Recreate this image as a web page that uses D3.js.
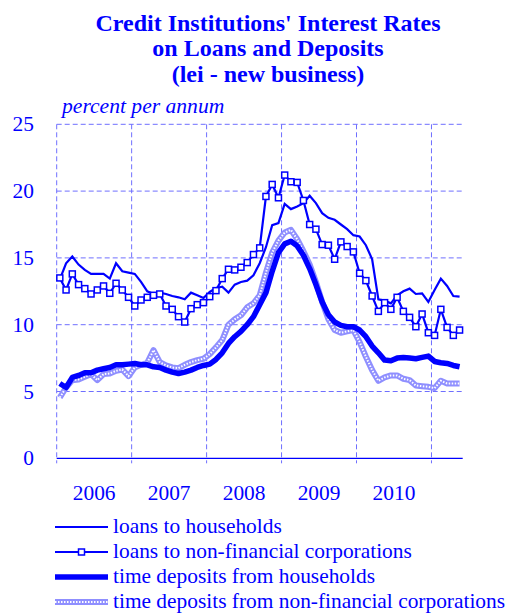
<!DOCTYPE html>
<html>
<head>
<meta charset="utf-8">
<script src="https://cdn.jsdelivr.net/npm/d3@7"></script>
<style>
  body { margin: 0; background: #fff; }
  svg text { font-family: "Liberation Serif", "Times New Roman", serif; fill: #0000ff; }
</style>
</head>
<body>
<div id="chart"></div>
<script>
// monthly values, Jan 2006 - May 2011
const loansHouseholds = [13.4, 14.6, 15.1, 14.5, 14.1, 13.8, 13.8, 13.8, 13.45, 14.6, 14.0, 13.9,
  13.8, 13.2, 12.5, 12.3, 12.4, 12.3, 12.15, 12.05, 11.9, 12.4, 12.2, 12.0,
  12.45, 12.75, 12.85, 12.4, 13.0, 13.2, 13.3, 13.7, 14.6, 15.8, 17.45, 17.6,
  19.05, 18.65, 18.85, 19.1, 19.65, 19.1, 18.35, 18.0, 17.85, 17.5, 17.15, 16.7,
  16.6, 15.95, 14.9, 11.9, 11.8, 11.6, 12.2, 12.5, 12.7, 12.3, 12.35, 11.7,
  12.6, 13.45, 12.9, 12.15, 12.1];
const loansCorporations = [13.5, 12.6, 13.8, 13.0, 12.7, 12.3, 12.6, 12.9, 12.35, 13.1, 12.6, 12.05,
  11.4, 11.85, 12.05, 12.2, 12.3, 11.4, 11.15, 10.6, 10.2, 11.2, 11.5, 11.65,
  12.1, 12.55, 13.45, 14.15, 14.1, 14.3, 14.65, 15.25, 15.75, 19.6, 20.5, 19.5,
  21.2, 20.7, 20.65, 19.3, 17.5, 17.15, 16.0, 15.95, 14.9, 16.2, 15.85, 15.45,
  13.85, 13.3, 12.15, 11.0, 11.65, 11.15, 12.05, 11.0, 10.55, 9.85, 10.8, 9.4,
  9.2, 11.15, 9.8, 9.2, 9.6];
const depositsHouseholds = [5.6, 5.3, 6.05, 6.2, 6.4, 6.4, 6.6, 6.7, 6.8, 7.0, 7.0, 7.05,
  7.1, 7.0, 7.0, 6.85, 6.8, 6.6, 6.45, 6.35, 6.45, 6.6, 6.8, 6.95,
  7.05, 7.4, 7.9, 8.6, 9.1, 9.5, 10.0, 10.6, 11.5, 12.4, 14.0, 15.4,
  16.05, 16.25, 15.9, 15.2, 14.2, 13.0, 11.7, 10.75, 10.2, 9.95, 9.85, 9.85,
  9.6, 9.1, 8.4, 7.9, 7.35, 7.3, 7.5, 7.55, 7.5, 7.45, 7.55, 7.65,
  7.25, 7.15, 7.1, 6.95, 6.85];
const depositsCorporations = [4.55, 5.3, 5.85, 5.9, 6.1, 6.3, 5.85, 6.3, 6.35, 6.55, 6.65, 6.15,
  6.8, 7.0, 7.15, 8.1, 7.2, 6.95, 6.8, 6.75, 7.0, 7.2, 7.35, 7.45,
  7.8, 8.3, 8.85, 10.0, 10.4, 10.7, 11.3, 11.6, 12.2, 13.9, 15.4, 16.3,
  16.9, 17.1, 16.4, 15.5, 14.5, 13.2, 11.7, 10.4, 9.6, 9.4, 9.5, 9.6,
  8.7, 7.6, 6.6, 5.8, 6.05, 6.2, 6.2, 5.95, 5.85, 5.45, 5.4, 5.35,
  5.25, 5.8, 5.6, 5.6, 5.6];

const years = ["2006", "2007", "2008", "2009", "2010"];
const yTicks = [0, 5, 10, 15, 20, 25];
const titleLines = ["Credit Institutions' Interest Rates", "on Loans and Deposits", "(lei - new business)"];
const legendLabels = ["loans to households", "loans to non-financial corporations",
  "time deposits from households", "time deposits from non-financial corporations"];

const width = 507, height = 616;
const blue = "#0000ff", grid = "#6f6fff";
const fs = "21.4px";

const svg = d3.select("#chart").append("svg")
  .attr("width", width).attr("height", height);

const x = d3.scaleLinear().domain([0, 65]).range([56.7, 462.7]);
const y = d3.scaleLinear().domain([0, 25]).range([458.3, 124.3]);

// title
svg.append("g").selectAll("text")
  .data(titleLines).join("text")
  .attr("x", 268).attr("y", (d, i) => 30.5 + i * 25.5)
  .attr("text-anchor", "middle")
  .style("font-size", "24px").style("font-weight", "bold")
  .text(d => d);

svg.append("text")
  .attr("x", 62).attr("y", 113)
  .style("font-size", "21.6px").style("font-style", "italic")
  .text("percent per annum");

// grid
svg.append("g").selectAll("line")
  .data(yTicks.filter(d => d > 0)).join("line")
  .attr("x1", x(0)).attr("x2", x(65))
  .attr("y1", d => y(d)).attr("y2", d => y(d))
  .attr("stroke", grid).attr("stroke-dasharray", "5,3");

svg.append("g").selectAll("line")
  .data([0, 12, 24, 36, 48, 60]).join("line")
  .attr("x1", d => x(d)).attr("x2", d => x(d))
  .attr("y1", y(25)).attr("y2", y(0) + 5)
  .attr("stroke", grid).attr("stroke-dasharray", "5,3");

svg.append("line")
  .attr("x1", x(0)).attr("x2", x(65))
  .attr("y1", y(0)).attr("y2", y(0))
  .attr("stroke", blue).attr("stroke-width", 1.2);

// axis labels
svg.append("g").selectAll("text")
  .data(yTicks).join("text")
  .attr("x", 34).attr("y", d => y(d) + 7)
  .attr("text-anchor", "end")
  .style("font-size", fs)
  .text(d => d);

svg.append("g").selectAll("text")
  .data(years).join("text")
  .attr("x", (d, i) => x(i * 12 + 6)).attr("y", 500)
  .attr("text-anchor", "middle")
  .style("font-size", fs)
  .text(d => d);

// series
const line = d3.line().x((d, i) => x(i + 0.5)).y(d => y(d));

svg.append("path").datum(depositsCorporations)
  .attr("d", line).attr("fill", "none")
  .attr("stroke", "#8f8fff").attr("stroke-width", 6).attr("stroke-linejoin", "round");
svg.append("path").datum(depositsCorporations)
  .attr("d", line).attr("fill", "none")
  .attr("stroke", "#fff").attr("stroke-width", 2).attr("stroke-dasharray", "1.5,1.5");

svg.append("path").datum(depositsHouseholds)
  .attr("d", line).attr("fill", "none")
  .attr("stroke", blue).attr("stroke-width", 5.5).attr("stroke-linejoin", "round");

svg.append("path").datum(loansHouseholds)
  .attr("d", line).attr("fill", "none")
  .attr("stroke", blue).attr("stroke-width", 2.2);

svg.append("path").datum(loansCorporations)
  .attr("d", line).attr("fill", "none")
  .attr("stroke", blue).attr("stroke-width", 2.2);

svg.append("g").selectAll("rect")
  .data(loansCorporations).join("rect")
  .attr("x", (d, i) => x(i + 0.5) - 3).attr("y", d => y(d) - 3)
  .attr("width", 6).attr("height", 6)
  .attr("fill", "#fff").attr("stroke", blue).attr("stroke-width", 1.5);

// legend
const leg = svg.append("g").selectAll("g")
  .data(legendLabels).join("g")
  .attr("transform", (d, i) => `translate(0,${533 + i * 25})`);

leg.append("text")
  .attr("x", 113).attr("y", 0)
  .style("font-size", fs)
  .text(d => d);

leg.each(function(d, i) {
  const g = d3.select(this);
  if (i === 3) {
    g.append("line").attr("x1", 55).attr("x2", 108).attr("y1", -6).attr("y2", -6)
      .attr("stroke", "#8f8fff").attr("stroke-width", 6);
    g.append("line").attr("x1", 55).attr("x2", 108).attr("y1", -6).attr("y2", -6)
      .attr("stroke", "#fff").attr("stroke-width", 2).attr("stroke-dasharray", "1.5,1.5");
  } else {
    g.append("line").attr("x1", 55).attr("x2", 108).attr("y1", -6).attr("y2", -6)
      .attr("stroke", blue).attr("stroke-width", i === 2 ? 5.5 : 2.2);
  }
  if (i === 1) {
    g.append("rect").attr("x", 78.5).attr("y", -9).attr("width", 6).attr("height", 6)
      .attr("fill", "#fff").attr("stroke", blue).attr("stroke-width", 1.5);
  }
});
</script>
</body>
</html>
